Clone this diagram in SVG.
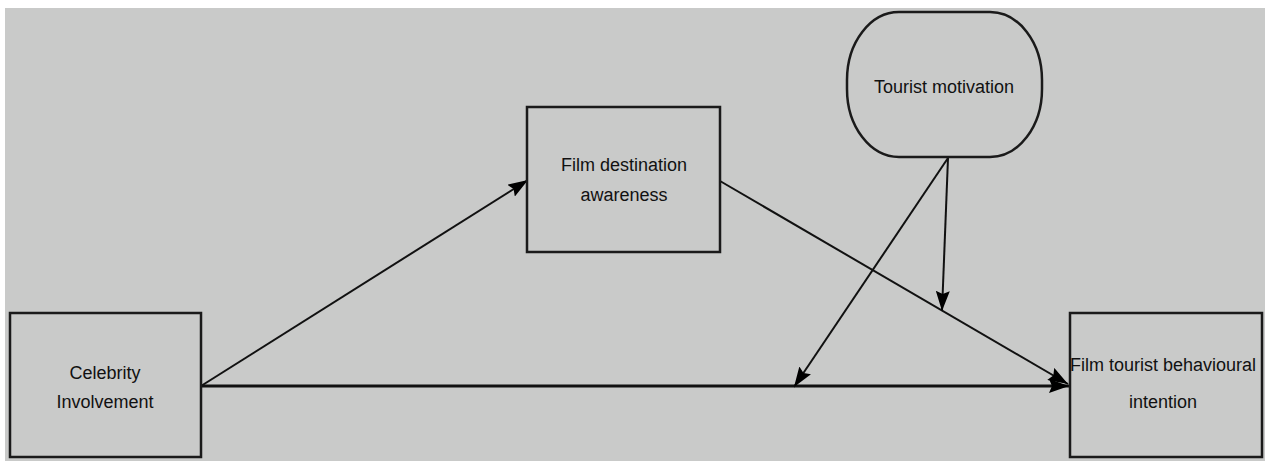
<svg xmlns="http://www.w3.org/2000/svg" width="1265" height="463" viewBox="0 0 1265 463">
  <style>
    .box { fill: #c9cac9; stroke: #1a1a1a; stroke-width: 2.5; }
    .lbl { font-family: "Liberation Sans", Arial, sans-serif; font-size: 18px; fill: #111; text-anchor: middle; }
    .conn { stroke: #111; stroke-width: 2; fill: none; marker-end: url(#arr); }
  </style>
  <defs>
    <marker id="arr" viewBox="0 0 20 14" refX="20" refY="7" markerWidth="20" markerHeight="14" markerUnits="userSpaceOnUse" orient="auto">
      <path d="M0,0 L20,7 L0,14 L3,7 Z" fill="#000"/>
    </marker>
  </defs>
  <rect x="0" y="0" width="1265" height="463" fill="#ffffff"/>
  <rect x="5" y="8" width="1260" height="453" fill="#c9cac9"/>

  <g id="connectors">
    <line class="conn" x1="201" y1="386" x2="528" y2="180"/>
    <line class="conn" x1="201" y1="386" x2="1069" y2="386" style="stroke-width:3"/>
    <line class="conn" x1="720" y1="181" x2="1068" y2="384"/>
    <line class="conn" x1="948" y1="158" x2="942" y2="311"/>
    <line class="conn" x1="948" y1="158" x2="794" y2="387"/>
  </g>

  <g id="celebrity">
    <rect class="box" x="10" y="313" width="191" height="144"/>
    <text class="lbl" x="105" y="379">Celebrity</text>
    <text class="lbl" x="105" y="408">Involvement</text>
  </g>

  <g id="destination">
    <rect class="box" x="527" y="107" width="193" height="145"/>
    <text class="lbl" x="624" y="171">Film destination</text>
    <text class="lbl" x="624" y="201">awareness</text>
  </g>

  <g id="motivation">
    <rect class="box" x="847" y="12" width="195" height="145" rx="52" ry="68"/>
    <text class="lbl" x="944" y="93">Tourist motivation</text>
  </g>

  <g id="intention">
    <rect class="box" x="1070" y="313" width="192" height="144"/>
    <text class="lbl" x="1163" y="371">Film tourist behavioural</text>
    <text class="lbl" x="1163" y="408">intention</text>
  </g>
</svg>
